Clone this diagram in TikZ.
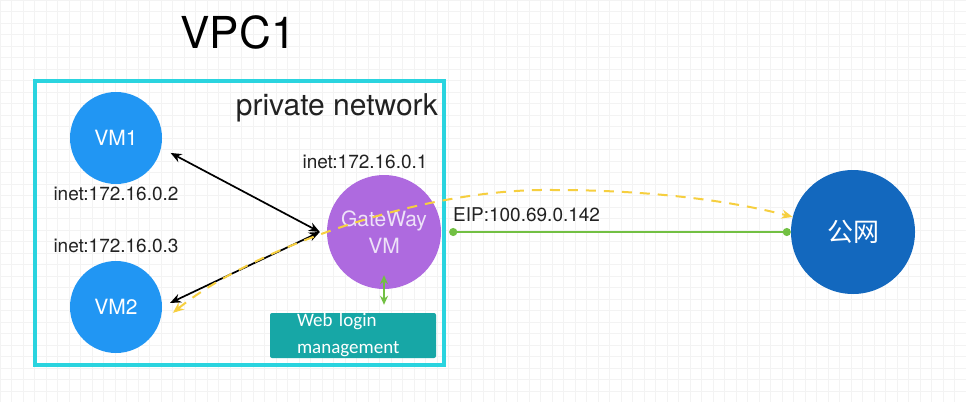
\documentclass[tikz,border=0pt]{standalone}
\usepackage{fontspec}
\setmainfont{TeX Gyre Heros}
\newfontfamily\cjkfont{Noto Sans CJK SC}
\newfontfamily\webfont{Carlito}
\usepackage{xcolor}
\usetikzlibrary{arrows.meta,positioning}

\definecolor{gridgray}{HTML}{F3F3F3}
\definecolor{vpccyan}{HTML}{2AD4DF}
\definecolor{vmblue}{HTML}{2196F3}
\definecolor{gwpurple}{HTML}{AE6ADF}
\definecolor{gwtext}{HTML}{EEE2F8}
\definecolor{pubblue}{HTML}{1368BE}
\definecolor{webteal}{HTML}{17A7A6}
\definecolor{flowyellow}{HTML}{F6CF3F}
\definecolor{eipgreen}{HTML}{72C043}
\definecolor{labelgray}{HTML}{222222}

\begin{document}
\begin{tikzpicture}[x=1pt, y=-1pt,
    vm/.style={circle, fill=vmblue, minimum size=92pt, inner sep=0pt, text=white, font=\fontsize{21}{25}\selectfont},
    iplabel/.style={inner sep=0pt, text=labelgray, font=\fontsize{19}{22}\selectfont},
    link/.style={black, line width=1.7pt, {Stealth[length=11pt,width=9pt]}-{Stealth[length=11pt,width=9pt]}},
    ]
    \useasboundingbox (0,0) rectangle (966,402);
    \fill[white] (0,0) rectangle (966,402);

    % Background grid
    \foreach \x in {0,11.5,...,966} {
        \draw[gridgray, line width=0.8pt] (\x,0) -- (\x,402);
    }
    \foreach \y in {0,11.5,...,402} {
        \draw[gridgray, line width=0.8pt] (0,\y) -- (966,\y);
    }

    % Title and private network box
    \node[anchor=base, inner sep=0pt, font=\fontsize{44}{48}\selectfont] (title) at (238,48) {VPC1};
    \draw[vpccyan, line width=4pt] (35,81) rectangle (444,365);
    \node[anchor=base east, inner sep=0pt, text=labelgray, font=\fontsize{30}{34}\selectfont] (private) at (438,115) {private network};

    % Virtual machines
    \node[vm] (vm1) at (116,138) {VM1};
    \node[vm] (vm2) at (116,307) {VM2};
    \node[iplabel, below=3pt of vm1] (ip1) {inet:172.16.0.2};
    \node[iplabel, above=8pt of vm2] (ip2) {inet:172.16.0.3};

    % Gateway
    \node[circle, fill=gwpurple, minimum size=114pt, inner sep=0pt, text=gwtext, align=center,
          font=\fontsize{21}{27}\selectfont] (gw) at (384,232) {GateWay\\VM};
    \node[iplabel, above=6pt of gw, xshift=-19pt] (ipgw) {inet:172.16.0.1};
    \coordinate (gwin) at ([xshift=-7pt]gw.west);

    % Web login box
    \node[fill=webteal, rounded corners=2pt, minimum height=45pt, inner xsep=27pt, inner ysep=0pt,
          text width=112pt, align=left, text=white, font=\webfont\fontsize{19}{27}\selectfont]
          (web) at (353,335.5) {Web login\\management};

    % Public network
    \node[circle, fill=pubblue, minimum size=124pt, inner sep=0pt, text=white,
          font=\cjkfont\fontsize{26}{30}\selectfont] (pub) at (853,232) {公网};

    % Links inside the private network
    \draw[link] ([shift={(10,3)}]vm1.-15) -- (gwin);
    \draw[link] ([xshift=8pt]vm2.5) -- (gwin);
    \draw[eipgreen, line width=2pt, {Stealth[length=9pt,width=8pt]}-{Stealth[length=9pt,width=8pt]}]
        ([yshift=14pt]gw.south) -- ([yshift=8pt]gw.south |- web.north);

    % Traffic flow to the public network
    \draw[flowyellow, line width=2pt, dash pattern=on 10pt off 8pt,
          {Stealth[length=11pt,width=9pt]}-{Stealth[length=11pt,width=9pt]}]
        ([shift={(11,1)}]vm2.-6) .. controls (250,250) and (420,188) .. (553,190)
        .. controls (660,190) and (740,203) .. (pub.166);

    % Elastic IP
    \draw[eipgreen, line width=2pt, {Circle[length=8pt]}-{Circle[length=8pt]}]
        ([xshift=8pt]gw.east) -- (pub.west);
    \node[anchor=south west, inner sep=0pt, text=labelgray, font=\fontsize{19}{22}\selectfont]
        (eip) at (453,222) {EIP:100.69.0.142};
\end{tikzpicture}
\end{document}
